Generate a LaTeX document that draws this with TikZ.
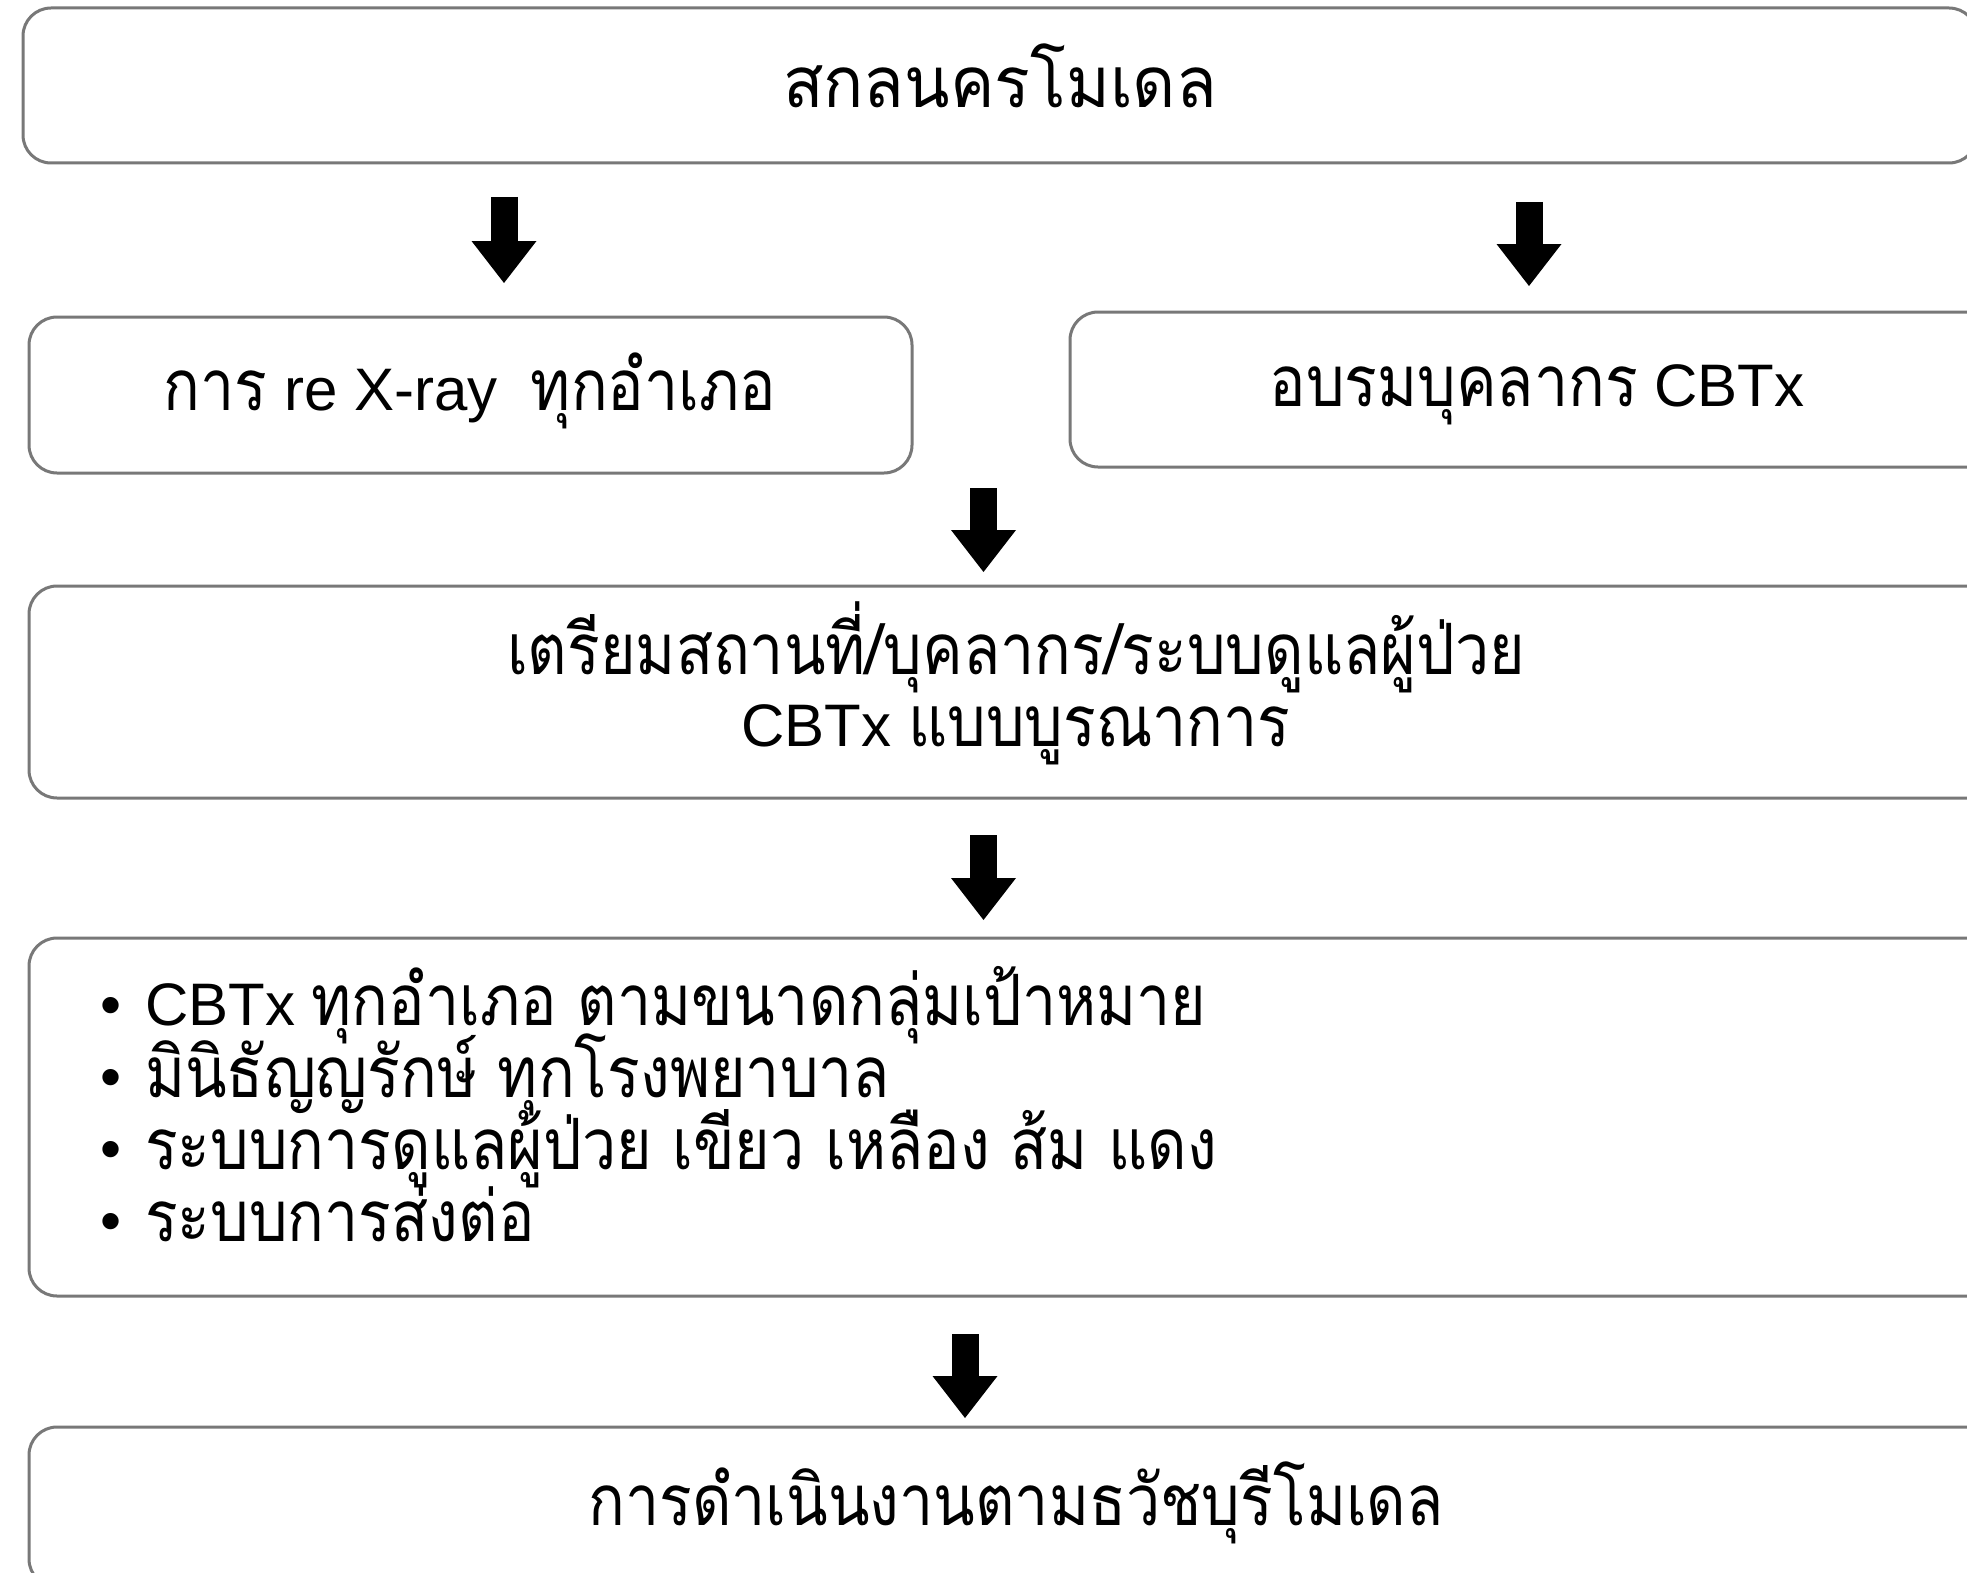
\documentclass[tikz,border=0pt]{standalone}
\usepackage{fontspec}
\setmainfont{Liberation Sans}
\newfontfamily\thaifont[Script=Thai,Scale=1.18,FakeStretch=0.86]{Loma}
\usetikzlibrary{arrows.meta}
\definecolor{bordergray}{RGB}{120,120,120}
\newcommand\tha[1]{{\thaifont #1}}
\tikzset{
  box/.style={draw=bordergray, line width=3pt, rounded corners=28pt, fill=white, inner sep=0pt},
  barrow/.style={line width=27pt, -{Triangle[width=65pt,length=42pt,line width=0pt]}},
  txt/.style={font={\fontsize{60}{72}\selectfont\lineskiplimit=-100pt}, align=center, inner sep=0pt}
}
\begin{document}
\begin{tikzpicture}[x=1pt,y=-1pt]
\useasboundingbox (0,0) rectangle (1967,1573);
% boxes
\node[box, minimum width=1954pt, minimum height=155pt] (top) at (1000,85.5) {};
\node[box, minimum width=883pt, minimum height=156pt] (xray) at (470.5,395) {};
\node[box, minimum width=934pt, minimum height=155pt] (train) at (1537,389.5) {};
\node[box, minimum width=1974pt, minimum height=212pt] (prep) at (1016,692) {};
\node[box, minimum width=1974pt, minimum height=358pt] (list) at (1016,1117) {};
\node[box, minimum width=1974pt, minimum height=160pt] (final) at (1016,1507) {};
% texts
\node[txt] (ttop) at (1000,76) {\tha{\addfontfeature{FakeStretch=0.94}สกลนครโมเดล}};
\node[txt] (txray) at (470,391) {\tha{การ} re X-ray\ \ \tha{ทุกอำเภอ}};
\node[txt] (ttrain) at (1537,395) {\tha{อบรมบุคลากร} CBTx};
\node[txt] (tprep) at (1016,683) {\tha{เตรียมสถานที่/บุคลากร/ระบบดูแลผู้ป่วย}\\CBTx \tha{แบบบูรณาการ}};
\node[txt, align=left, anchor=west] (tlist) at (100,1104) {%
\makebox[45pt][l]{•}CBTx \tha{ทุกอำเภอ ตามขนาดกลุ่มเป้าหมาย}\\
\makebox[45pt][l]{•}\tha{มินิธัญญรักษ์ ทุกโรงพยาบาล}\\
\makebox[45pt][l]{•}\tha{ระบบการดูแลผู้ป่วย เขียว เหลือง ส้ม แดง}\\
\makebox[45pt][l]{•}\tha{ระบบการส่งต่อ}};
\node[txt] (tfinal) at (1016,1503) {\tha{การดำเนินงานตามธวัชบุรีโมเดล}};
% arrows
\coordinate (a1s) at (504,197);  \coordinate (a1e) at (504,283);
\coordinate (a2s) at (1529,202); \coordinate (a2e) at (1529,286);
\coordinate (a3s) at (983.5,488); \coordinate (a3e) at (983.5,572);
\coordinate (a4s) at (983.5,835); \coordinate (a4e) at (983.5,920);
\coordinate (a5s) at (965,1334); \coordinate (a5e) at (965,1418);
\draw[barrow] (a1s) -- (a1e);
\draw[barrow] (a2s) -- (a2e);
\draw[barrow] (a3s) -- (a3e);
\draw[barrow] (a4s) -- (a4e);
\draw[barrow] (a5s) -- (a5e);
\end{tikzpicture}
\end{document}
